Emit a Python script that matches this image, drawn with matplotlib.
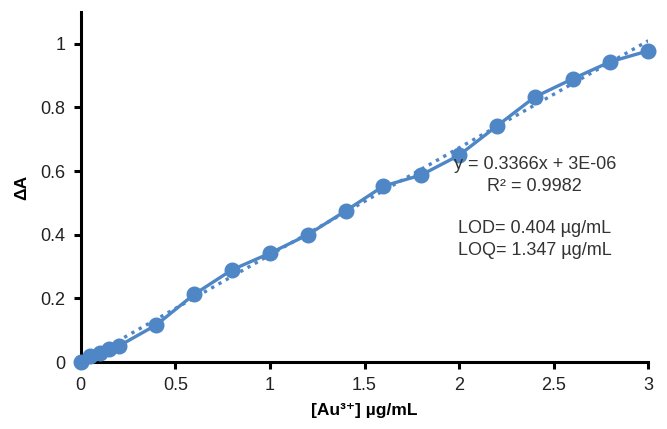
import matplotlib.pyplot as plt
import numpy as np

# --- data ---
conc = [0, 0.05, 0.1, 0.15, 0.2, 0.4, 0.6, 0.8, 1.0, 1.2, 1.4, 1.6, 1.8, 2.0, 2.2, 2.4, 2.6, 2.8, 3.0]
delta_a = [0, 0.02, 0.03, 0.04, 0.05, 0.117, 0.213, 0.29, 0.342, 0.40, 0.475, 0.553,
           0.588, 0.65, 0.742, 0.833, 0.89, 0.944, 0.978]
slope = 0.3366
intercept = 3e-06
xticks = [0, 0.5, 1, 1.5, 2, 2.5, 3]
xtick_labels = ['0', '0.5', '1', '1.5', '2', '2.5', '3']
yticks = [0, 0.2, 0.4, 0.6, 0.8, 1.0]
ytick_labels = ['0', '0.2', '0.4', '0.6', '0.8', '1']

plt.rcParams['font.family'] = ['Liberation Sans', 'DejaVu Sans']
color = '#4F86C6'

fig = plt.figure(figsize=(6.67, 4.29), dpi=100)
ax = fig.add_axes([0.121, 0.156, 0.851, 0.816])

# trend line (dotted)
fit_x = np.array([0, 3.0])
ax.plot(fit_x, slope * fit_x + intercept, linestyle=(0, (1, 1.5)), color=color, linewidth=2.4)
# data
ax.plot(conc, delta_a, '-o', color=color, linewidth=2.4, markersize=10.5, clip_on=False, zorder=3)

ax.set_xlim(0, 3)
ax.set_ylim(0, 1.1)
ax.set_xticks(xticks)
ax.set_xticklabels(xtick_labels)
ax.set_yticks(yticks)
ax.set_yticklabels(ytick_labels)

for s in ['top', 'right']:
    ax.spines[s].set_visible(False)
for s in ['left', 'bottom']:
    ax.spines[s].set_linewidth(2.2)
    ax.spines[s].set_color('black')
ax.tick_params(axis='both', width=2.2, length=5, labelsize=13, colors='black', labelcolor='#222222')
ax.tick_params(axis='x', pad=6)
ax.tick_params(axis='y', pad=6)

ax.set_xlabel('[Au³⁺] µg/mL', fontsize=12.5, fontweight='bold', labelpad=6)
ax.set_ylabel('ΔA', fontsize=12.5, fontweight='bold', labelpad=8)

ax.text(2.40, 0.62, 'y = 0.3366x + 3E-06', ha='center', va='center', fontsize=13, color='#333333')
ax.text(2.40, 0.553, 'R² = 0.9982', ha='center', va='center', fontsize=13, color='#333333')
ax.text(2.40, 0.42, 'LOD= 0.404 µg/mL', ha='center', va='center', fontsize=13, color='#333333')
ax.text(2.40, 0.352, 'LOQ= 1.347 µg/mL', ha='center', va='center', fontsize=13, color='#333333')

plt.savefig('out.png', dpi=100)
